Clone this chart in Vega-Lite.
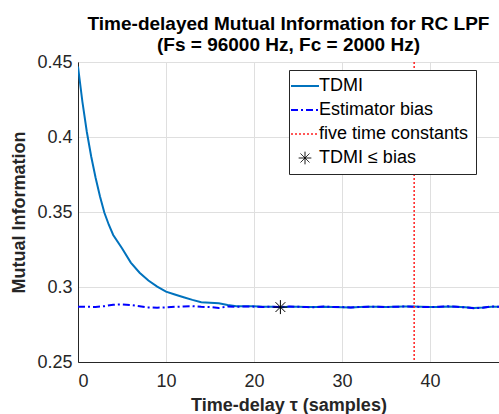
{
  "$schema": "https://vega.github.io/schema/vega-lite/v6.json",
  "width": 421,
  "height": 300,
  "autosize": {"type": "none"},
  "padding": {"left": 78, "top": 62, "right": 0, "bottom": 52},
  "background": "white",
  "title": {
    "text": ["Time-delayed Mutual Information for RC LPF", "(Fs = 96000 Hz, Fc = 2000 Hz)"],
    "font": "Liberation Sans",
    "fontSize": 19,
    "fontWeight": "bold",
    "lineHeight": 21,
    "anchor": "middle",
    "offset": -2,
    "color": "#000000"
  },
  "datasets": {
    "curves": [
      {"tau": 0, "mi": 0.447, "series": "TDMI"},
      {"tau": 0.5, "mi": 0.4235, "series": "TDMI"},
      {"tau": 1, "mi": 0.4035, "series": "TDMI"},
      {"tau": 1.5, "mi": 0.387, "series": "TDMI"},
      {"tau": 2, "mi": 0.3728, "series": "TDMI"},
      {"tau": 2.5, "mi": 0.3603, "series": "TDMI"},
      {"tau": 3, "mi": 0.3495, "series": "TDMI"},
      {"tau": 3.5, "mi": 0.3415, "series": "TDMI"},
      {"tau": 4, "mi": 0.3347, "series": "TDMI"},
      {"tau": 5, "mi": 0.3258, "series": "TDMI"},
      {"tau": 6, "mi": 0.3163, "series": "TDMI"},
      {"tau": 7, "mi": 0.3095, "series": "TDMI"},
      {"tau": 8, "mi": 0.3043, "series": "TDMI"},
      {"tau": 9, "mi": 0.3003, "series": "TDMI"},
      {"tau": 10, "mi": 0.2969, "series": "TDMI"},
      {"tau": 11, "mi": 0.2950, "series": "TDMI"},
      {"tau": 12, "mi": 0.2932, "series": "TDMI"},
      {"tau": 13, "mi": 0.2914, "series": "TDMI"},
      {"tau": 14, "mi": 0.2898, "series": "TDMI"},
      {"tau": 15, "mi": 0.2895, "series": "TDMI"},
      {"tau": 16, "mi": 0.2891, "series": "TDMI"},
      {"tau": 17, "mi": 0.2880, "series": "TDMI"},
      {"tau": 18, "mi": 0.2872, "series": "TDMI"},
      {"tau": 19, "mi": 0.2871, "series": "TDMI"},
      {"tau": 20, "mi": 0.2872, "series": "TDMI"},
      {"tau": 21, "mi": 0.2869, "series": "TDMI"},
      {"tau": 22, "mi": 0.2868, "series": "TDMI"},
      {"tau": 23, "mi": 0.2865, "series": "TDMI"},
      {"tau": 24, "mi": 0.2869, "series": "TDMI"},
      {"tau": 25, "mi": 0.2868, "series": "TDMI"},
      {"tau": 26, "mi": 0.2866, "series": "TDMI"},
      {"tau": 27, "mi": 0.2866, "series": "TDMI"},
      {"tau": 28, "mi": 0.2869, "series": "TDMI"},
      {"tau": 29, "mi": 0.2867, "series": "TDMI"},
      {"tau": 30, "mi": 0.2865, "series": "TDMI"},
      {"tau": 31, "mi": 0.2864, "series": "TDMI"},
      {"tau": 32, "mi": 0.2866, "series": "TDMI"},
      {"tau": 33, "mi": 0.2868, "series": "TDMI"},
      {"tau": 34, "mi": 0.2868, "series": "TDMI"},
      {"tau": 35, "mi": 0.2867, "series": "TDMI"},
      {"tau": 36, "mi": 0.2869, "series": "TDMI"},
      {"tau": 37, "mi": 0.2870, "series": "TDMI"},
      {"tau": 38, "mi": 0.2870, "series": "TDMI"},
      {"tau": 39, "mi": 0.2868, "series": "TDMI"},
      {"tau": 40, "mi": 0.2866, "series": "TDMI"},
      {"tau": 41, "mi": 0.2867, "series": "TDMI"},
      {"tau": 42, "mi": 0.2870, "series": "TDMI"},
      {"tau": 43, "mi": 0.2868, "series": "TDMI"},
      {"tau": 44, "mi": 0.2865, "series": "TDMI"},
      {"tau": 45, "mi": 0.2860, "series": "TDMI"},
      {"tau": 46, "mi": 0.2863, "series": "TDMI"},
      {"tau": 47, "mi": 0.2869, "series": "TDMI"},
      {"tau": 48, "mi": 0.2868, "series": "TDMI"},
      {"tau": 0, "mi": 0.2869, "series": "Estimator bias"},
      {"tau": 1, "mi": 0.2868, "series": "Estimator bias"},
      {"tau": 2, "mi": 0.2867, "series": "Estimator bias"},
      {"tau": 3, "mi": 0.2872, "series": "Estimator bias"},
      {"tau": 4, "mi": 0.2882, "series": "Estimator bias"},
      {"tau": 5, "mi": 0.2884, "series": "Estimator bias"},
      {"tau": 6, "mi": 0.2880, "series": "Estimator bias"},
      {"tau": 7, "mi": 0.2872, "series": "Estimator bias"},
      {"tau": 8, "mi": 0.2864, "series": "Estimator bias"},
      {"tau": 9, "mi": 0.2862, "series": "Estimator bias"},
      {"tau": 10, "mi": 0.2864, "series": "Estimator bias"},
      {"tau": 11, "mi": 0.2868, "series": "Estimator bias"},
      {"tau": 12, "mi": 0.2870, "series": "Estimator bias"},
      {"tau": 13, "mi": 0.2872, "series": "Estimator bias"},
      {"tau": 14, "mi": 0.2868, "series": "Estimator bias"},
      {"tau": 15, "mi": 0.2866, "series": "Estimator bias"},
      {"tau": 16, "mi": 0.2860, "series": "Estimator bias"},
      {"tau": 17, "mi": 0.2870, "series": "Estimator bias"},
      {"tau": 18, "mi": 0.2868, "series": "Estimator bias"},
      {"tau": 19, "mi": 0.2870, "series": "Estimator bias"},
      {"tau": 20, "mi": 0.2869, "series": "Estimator bias"},
      {"tau": 21, "mi": 0.2867, "series": "Estimator bias"},
      {"tau": 22, "mi": 0.2868, "series": "Estimator bias"},
      {"tau": 23, "mi": 0.2866, "series": "Estimator bias"},
      {"tau": 24, "mi": 0.2870, "series": "Estimator bias"},
      {"tau": 25, "mi": 0.2868, "series": "Estimator bias"},
      {"tau": 26, "mi": 0.2866, "series": "Estimator bias"},
      {"tau": 27, "mi": 0.2865, "series": "Estimator bias"},
      {"tau": 28, "mi": 0.2870, "series": "Estimator bias"},
      {"tau": 29, "mi": 0.2867, "series": "Estimator bias"},
      {"tau": 30, "mi": 0.2866, "series": "Estimator bias"},
      {"tau": 31, "mi": 0.2864, "series": "Estimator bias"},
      {"tau": 32, "mi": 0.2867, "series": "Estimator bias"},
      {"tau": 33, "mi": 0.2868, "series": "Estimator bias"},
      {"tau": 34, "mi": 0.2869, "series": "Estimator bias"},
      {"tau": 35, "mi": 0.2867, "series": "Estimator bias"},
      {"tau": 36, "mi": 0.2868, "series": "Estimator bias"},
      {"tau": 37, "mi": 0.2870, "series": "Estimator bias"},
      {"tau": 38, "mi": 0.2869, "series": "Estimator bias"},
      {"tau": 39, "mi": 0.2867, "series": "Estimator bias"},
      {"tau": 40, "mi": 0.2866, "series": "Estimator bias"},
      {"tau": 41, "mi": 0.2868, "series": "Estimator bias"},
      {"tau": 42, "mi": 0.2871, "series": "Estimator bias"},
      {"tau": 43, "mi": 0.2868, "series": "Estimator bias"},
      {"tau": 44, "mi": 0.2864, "series": "Estimator bias"},
      {"tau": 45, "mi": 0.2858, "series": "Estimator bias"},
      {"tau": 46, "mi": 0.2862, "series": "Estimator bias"},
      {"tau": 47, "mi": 0.2870, "series": "Estimator bias"},
      {"tau": 48, "mi": 0.2868, "series": "Estimator bias"}
    ],
    "marker": [
      {"tau": 38.2, "series": "five time constants"}
    ],
    "cross": [
      {"tau": 23, "mi": 0.2866, "series": "TDMI ≤ bias"}
    ]
  },
  "encoding": {
    "x": {
      "field": "tau",
      "type": "quantitative",
      "scale": {"domain": [0, 47.84], "nice": false, "zero": false},
      "axis": {
        "title": "Time-delay τ (samples)",
        "values": [0, 10, 20, 30, 40],
        "format": "d",
        "labelPadding": 10,
        "titlePadding": 6
      }
    },
    "color": {
      "field": "series",
      "type": "nominal",
      "scale": {
        "domain": ["TDMI", "Estimator bias", "five time constants", "TDMI ≤ bias"],
        "range": ["#0072BD", "#0000FF", "#FF2020", "#000000"]
      },
      "legend": {
        "orient": "none",
        "legendX": 211,
        "legendY": 8,
        "title": null,
        "fillColor": "white",
        "strokeColor": "#262626",
        "padding": 7,
        "labelFont": "Liberation Sans",
        "labelFontSize": 18,
        "labelColor": "#000000",
        "labelOffset": 5,
        "symbolType": "stroke",
        "symbolSize": 784,
        "symbolStrokeWidth": 2,
        "rowPadding": 6,
        "encode": {
          "symbols": {
            "update": {
              "strokeDash": {"signal": "datum.value === 'Estimator bias' ? [7,3,2,3] : datum.value === 'five time constants' ? [2,2] : [1,0]"},
              "shape": {"signal": "datum.value === 'TDMI ≤ bias' ? 'M-1,0L1,0M0,-1L0,1M-0.7,-0.7L0.7,0.7M-0.7,0.7L0.7,-0.7' : 'stroke'"},
              "size": {"signal": "datum.value === 'TDMI ≤ bias' ? 160 : 784"},
              "strokeWidth": {"signal": "datum.value === 'TDMI ≤ bias' ? 1 : datum.value === 'five time constants' ? 1.5 : 2"}
            }
          }
        }
      }
    }
  },
  "layer": [
    {
      "data": {"name": "curves"},
      "transform": [{"filter": "datum.series === 'TDMI'"}],
      "mark": {"type": "line", "strokeWidth": 2, "clip": true},
      "encoding": {
        "y": {
          "field": "mi",
          "type": "quantitative",
          "scale": {"domain": [0.25, 0.45], "nice": false, "zero": false},
          "axis": {
            "title": "Mutual Information",
            "values": [0.25, 0.3, 0.35, 0.4, 0.45],
            "format": "~g",
            "labelPadding": 6,
            "titlePadding": 8
          }
        }
      }
    },
    {
      "data": {"name": "curves"},
      "transform": [{"filter": "datum.series === 'Estimator bias'"}],
      "mark": {"type": "line", "strokeWidth": 2, "strokeDash": [7, 3, 2, 3], "clip": true},
      "encoding": {
        "y": {"field": "mi", "type": "quantitative"}
      }
    },
    {
      "data": {"name": "marker"},
      "mark": {"type": "rule", "strokeWidth": 1.5, "strokeDash": [2, 2]},
      "encoding": {}
    },
    {
      "data": {"name": "cross"},
      "mark": {
        "type": "point",
        "filled": false,
        "shape": "M-1,0L1,0M0,-1L0,1M-0.7,-0.7L0.7,0.7M-0.7,0.7L0.7,-0.7",
        "size": 196,
        "strokeWidth": 1,
        "opacity": 1
      },
      "encoding": {
        "y": {"field": "mi", "type": "quantitative"}
      }
    }
  ],
  "config": {
    "font": "Liberation Sans",
    "view": {"stroke": "#262626", "strokeWidth": 1},
    "axis": {
      "labelFont": "Liberation Sans",
      "labelFontSize": 18,
      "labelColor": "#262626",
      "titleFont": "Liberation Sans",
      "titleFontSize": 18,
      "titleFontWeight": "bold",
      "titleColor": "#262626",
      "domainColor": "#262626",
      "ticks": false,
      "grid": true,
      "gridColor": "#dfdfdf",
      "gridWidth": 1
    }
  }
}
